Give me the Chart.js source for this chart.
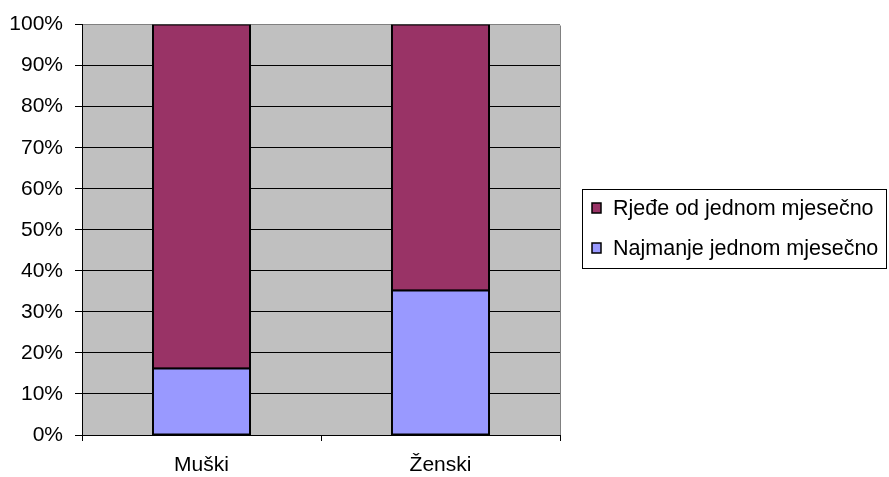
<!DOCTYPE html>
<html>
<head>
<meta charset="utf-8">
<script src="https://cdn.jsdelivr.net/npm/chart.js@4.4.1/dist/chart.umd.min.js"></script>
<style>
  body { margin: 0; background: #fff; }
</style>
</head>
<body>
<canvas id="chart" width="889" height="477"></canvas>
<script>
const categories = ['Muški', 'Ženski'];
const seriesNames = ['Najmanje jednom mjesečno', 'Rjeđe od jednom mjesečno'];
const atLeastMonthly = [16.2, 35.2];
const lessThanMonthly = [83.8, 64.8];
const seriesColors = ['#9999FF', '#993366'];

const FONT = 'Arial, "Liberation Sans", sans-serif';

// grey plot area with grey top/right frame (excel look)
const plotArea = {
  id: 'plotArea',
  beforeDraw(chart) {
    const { ctx, chartArea: a } = chart;
    ctx.save();
    ctx.fillStyle = '#C0C0C0';
    ctx.fillRect(a.left, a.top, a.right - a.left, a.bottom - a.top);
    ctx.restore();
  },
  afterDraw(chart) {
    const { ctx, chartArea: a } = chart;
    ctx.save();
    ctx.strokeStyle = '#808080';
    ctx.lineWidth = 1;
    ctx.beginPath();
    ctx.moveTo(Math.round(a.right) + 0.5, Math.round(a.top) + 0.5);
    ctx.lineTo(Math.round(a.right) + 0.5, Math.round(a.bottom));
    ctx.stroke();
    ctx.restore();
  }
};

// boxed legend on the right, top series first
const boxLegend = {
  id: 'boxLegend',
  afterDraw(chart) {
    const ctx = chart.ctx;
    ctx.save();
    ctx.strokeStyle = '#000';
    ctx.lineWidth = 1;
    ctx.strokeRect(582.5, 189.5, 304, 79);
    ctx.font = '21.5px ' + FONT;
    ctx.textBaseline = 'middle';
    const items = chart.data.datasets.slice().reverse();
    items.forEach((ds, i) => {
      const cy = 208 + i * 40;
      ctx.fillStyle = ds.backgroundColor;
      ctx.fillRect(592, cy - 5, 9, 10);
      ctx.strokeStyle = '#000';
      ctx.lineWidth = 1.5;
      ctx.strokeRect(592, cy - 5, 9, 10);
      ctx.fillStyle = '#000';
      ctx.fillText(ds.label, 613, cy + 1);
    });
    ctx.restore();
  }
};

new Chart(document.getElementById('chart'), {
  type: 'bar',
  data: {
    labels: categories,
    datasets: [
      {
        label: seriesNames[0],
        data: atLeastMonthly,
        backgroundColor: seriesColors[0],
        borderColor: '#000',
        borderWidth: 2,
        borderSkipped: false,
        inflateAmount: 1
      },
      {
        label: seriesNames[1],
        data: lessThanMonthly,
        backgroundColor: seriesColors[1],
        borderColor: '#000',
        borderWidth: 2,
        borderSkipped: false,
        inflateAmount: 1
      }
    ]
  },
  options: {
    responsive: false,
    animation: false,
    layout: { padding: { left: 0, top: 22, right: 329, bottom: 0 } },
    datasets: { bar: { categoryPercentage: 1, barPercentage: 0.406 } },
    plugins: {
      legend: { display: false },
      tooltip: { enabled: false }
    },
    scales: {
      x: {
        stacked: true,
        afterFit(scale) { scale.height = 42; },
        grid: {
          offset: true,
          drawOnChartArea: false,
          drawTicks: true,
          tickLength: 6,
          tickColor: '#000'
        },
        border: { color: '#000', width: 1 },
        ticks: { color: '#000', font: { family: FONT, size: 21 }, padding: 12 }
      },
      y: {
        stacked: true,
        min: 0,
        max: 100,
        afterFit(scale) { scale.width = 82; },
        grid: {
          color: ctx => ctx.tick && ctx.tick.value === 100 ? '#808080' : '#000',
          tickColor: '#000',
          tickLength: 7
        },
        border: { color: '#000', width: 1 },
        ticks: {
          stepSize: 10,
          color: '#000',
          padding: 12,
          font: { family: FONT, size: 21 },
          callback: v => v + '%'
        }
      }
    }
  },
  plugins: [plotArea, boxLegend]
});
</script>
</body>
</html>
